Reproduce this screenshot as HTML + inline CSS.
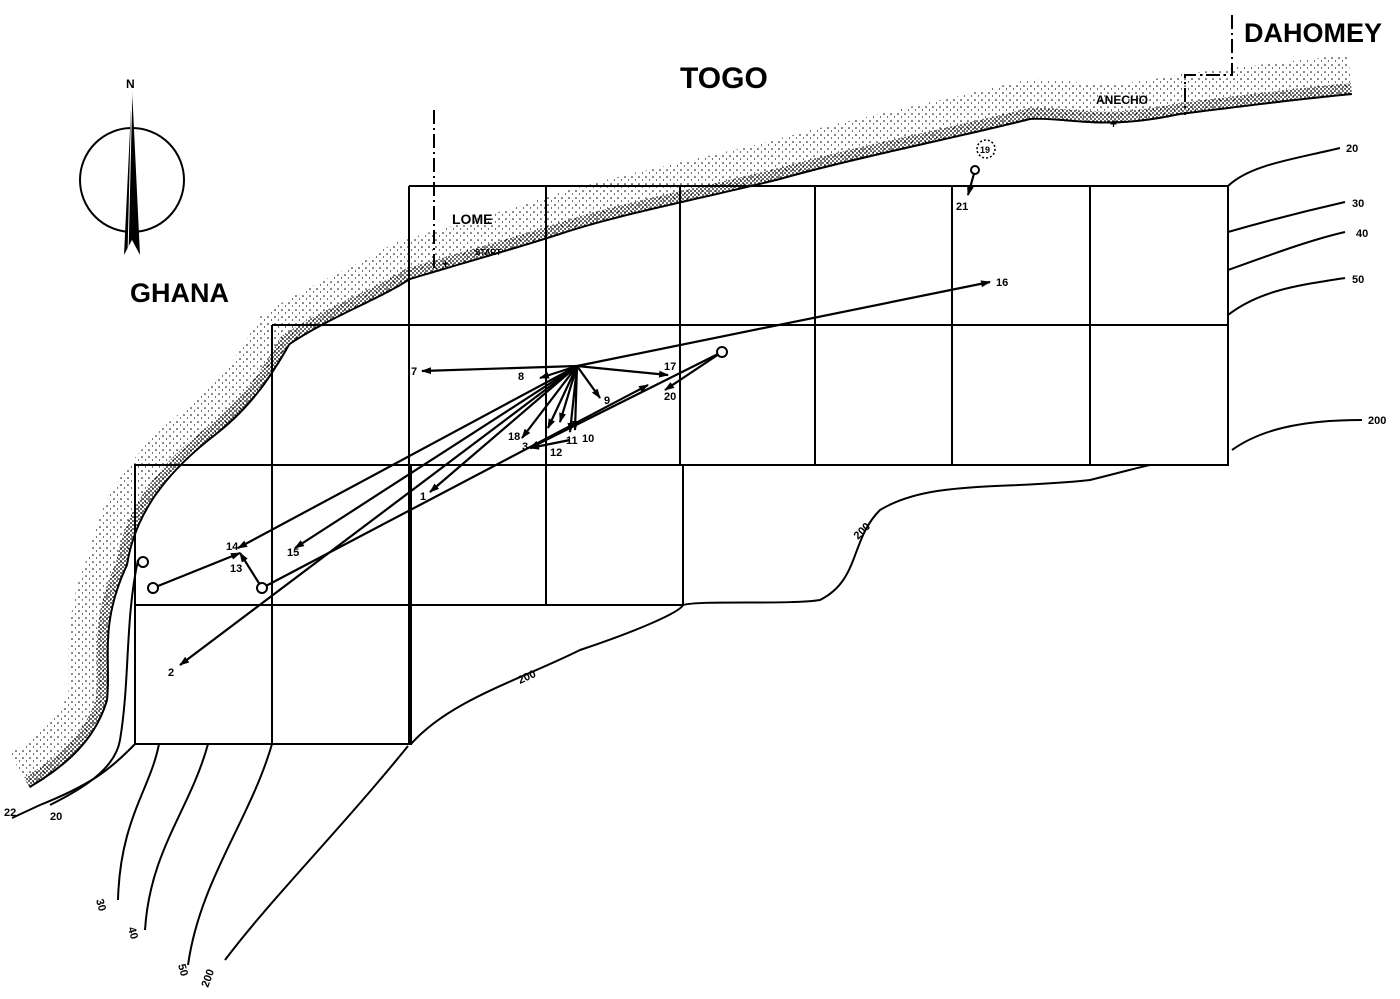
<!DOCTYPE html>
<html><head><style>
html,body{margin:0;padding:0;background:#fff}
svg{display:block}
text{font-family:"Liberation Sans",sans-serif;font-weight:bold;fill:#000}
</style></head><body>
<svg width="1400" height="999" viewBox="0 0 1400 999" xmlns="http://www.w3.org/2000/svg">
<defs>
<pattern id="d1" width="7" height="7" patternUnits="userSpaceOnUse"><circle cx="2" cy="2" r="0.8" fill="#000"/><circle cx="5.5" cy="5" r="0.6" fill="#000"/></pattern>
<pattern id="d2" width="4" height="4" patternUnits="userSpaceOnUse"><circle cx="1" cy="1" r="0.9" fill="#000"/><circle cx="3" cy="3" r="0.9" fill="#000"/></pattern>
<marker id="ar" markerUnits="userSpaceOnUse" markerWidth="10" markerHeight="7" refX="9" refY="3.5" orient="auto"><path d="M0,0 L10,3.5 L0,7 z" fill="#000"/></marker>
<clipPath id="land"><path d="M30,788 C60,770 95,745 108,700 C112,660 100,625 128,565 C135,520 160,480 210,440 C250,410 270,380 290,345 C330,318 380,300 410,280 C470,262 520,248 560,235 C620,215 700,200 780,180 C850,160 950,140 1030,120 C1070,118 1100,132 1180,115 C1260,105 1300,100 1352,95 L1352,0 L0,0 L0,788 Z"/></clipPath>
</defs>
<g clip-path="url(#land)" fill="none">
<path id="coast" d="M30,788 C60,770 95,745 108,700 C112,660 100,625 128,565 C135,520 160,480 210,440 C250,410 270,380 290,345 C330,318 380,300 410,280 C470,262 520,248 560,235 C620,215 700,200 780,180 C850,160 950,140 1030,120 C1070,118 1100,132 1180,115 C1260,105 1300,100 1352,95" stroke="url(#d1)" stroke-width="80"/>
<path d="M30,788 C60,770 95,745 108,700 C112,660 100,625 128,565 C135,520 160,480 210,440 C250,410 270,380 290,345 C330,318 380,300 410,280 C470,262 520,248 560,235 C620,215 700,200 780,180 C850,160 950,140 1030,120 C1070,118 1100,132 1180,115 C1260,105 1300,100 1352,95" stroke="url(#d2)" stroke-width="24"/>
<path d="M30,788 C60,770 95,745 108,700 C112,660 100,625 128,565 C135,520 160,480 210,440 C250,410 270,380 290,345 C330,318 380,300 410,280 C470,262 520,248 560,235 C620,215 700,200 780,180 C850,160 950,140 1030,120 C1070,118 1100,132 1180,115 C1260,105 1300,100 1352,95" stroke="#000" stroke-width="4"/>
</g>
<g fill="none" stroke="#000" stroke-width="2">
<path d="M409,186 H1228 V465 H135 V744 H411 V465 M272,325 H1228 M272,325 V744 M135,605 H683 V465 M409,186 V744 M546,186 V605 M680,186 V465 M815,186 V465 M952,186 V465 M1090,186 V465"/>
<path d="M1228,186 C1250,165 1290,160 1340,148"/>
<path d="M1228,232 C1270,220 1310,210 1345,202"/>
<path d="M1228,270 C1270,255 1310,240 1345,232"/>
<path d="M1228,315 C1260,290 1300,285 1345,278"/>
<path d="M1232,450 C1260,430 1300,420 1362,420"/>
<path d="M411,744 C450,700 520,680 580,650 C640,630 680,612 683,605 C700,600 790,605 820,600 C860,580 850,540 880,510 C930,480 1000,490 1090,480 C1130,470 1140,467 1150,465"/>
<path d="M135,744 C110,770 90,785 40,805 L12,818"/>
<path d="M159,744 C150,790 120,820 118,900"/>
<path d="M208,744 C190,810 150,850 145,930"/>
<path d="M272,744 C250,820 200,880 188,965"/>
<path d="M408,746 C340,830 270,900 225,960"/>
<path d="M138,560 C125,620 130,680 120,740 C115,770 80,790 50,805"/>
<path d="M434,110 V268" stroke-dasharray="14,4,2,4"/>
<path d="M1232,15 V75 H1185 V115" stroke-dasharray="14,4,2,4"/>
<circle cx="132" cy="180" r="52"/>
</g>
<path d="M132,88 L140,255 L132,240 L124,255 Z" fill="#000"/>
<path d="M132,88 L128,255" stroke="#fff" stroke-width="1"/>
<text x="126" y="88" font-size="12">N</text>
<g stroke="#000" stroke-width="2.2" fill="none" marker-end="url(#ar)">
<path d="M577,366 L422,371"/>
<path d="M577,366 L990,282"/>
<path d="M577,366 L668,375"/>
<path d="M577,366 L600,398"/>
<path d="M577,366 L238,548"/>
<path d="M577,366 L295,548"/>
<path d="M577,366 L430,492"/>
<path d="M577,366 L180,665"/>
<path d="M577,366 L522,438"/>
<path d="M577,366 L548,428"/>
<path d="M577,366 L560,422"/>
<path d="M577,366 L570,432"/>
<path d="M577,366 L575,430"/>
<path d="M577,366 L540,378"/>
<path d="M570,440 L530,448"/>
<path d="M722,352 L530,448"/>
<path d="M722,352 L665,390"/>
<path d="M153,588 L240,553"/>
<path d="M262,588 L240,553"/>
<path d="M262,588 L648,385"/>
<path d="M975,170 L968,195"/>
</g>
<g fill="#fff" stroke="#000" stroke-width="2">
<circle cx="722" cy="352" r="5"/><circle cx="153" cy="588" r="5"/><circle cx="262" cy="588" r="5"/><circle cx="143" cy="562" r="5"/><circle cx="975" cy="170" r="4"/>
<circle cx="986" cy="149" r="9" stroke-dasharray="2,2" stroke-width="1.5"/>
</g>
<text x="680" y="88" font-size="30">TOGO</text>
<text x="1244" y="42" font-size="27">DAHOMEY</text>
<text x="130" y="302" font-size="27">GHANA</text>
<text x="452" y="224" font-size="14">LOME</text>
<text x="475" y="255" font-size="8">START</text>
<text x="442" y="268" font-size="12">+</text>
<text x="1096" y="104" font-size="12">ANECHO</text>
<text x="1110" y="128" font-size="12">+</text>
<g font-size="11">
<text x="411" y="375">7</text><text x="996" y="286">16</text><text x="664" y="370">17</text><text x="604" y="404">9</text>
<text x="664" y="400">20</text><text x="518" y="380">8</text><text x="226" y="550">14</text><text x="287" y="556">15</text>
<text x="420" y="500">1</text><text x="168" y="676">2</text><text x="508" y="440">18</text><text x="550" y="456">12</text>
<text x="566" y="444">11</text><text x="582" y="442">10</text><text x="522" y="450">3</text><text x="230" y="572">13</text>
<text x="956" y="210">21</text><text x="980" y="153" font-size="9">19</text>
<text x="1346" y="152">20</text><text x="1352" y="207">30</text><text x="1356" y="237">40</text><text x="1352" y="283">50</text>
<text x="1368" y="424">200</text><text x="4" y="816">22</text><text x="50" y="820">20</text>
<text x="858" y="540" transform="rotate(-45 858 540)">200</text>
<text x="520" y="684" transform="rotate(-25 520 684)">200</text>
<text x="96" y="900" transform="rotate(75 96 900)">30</text>
<text x="128" y="928" transform="rotate(75 128 928)">40</text>
<text x="178" y="965" transform="rotate(75 178 965)">50</text>
<text x="208" y="988" transform="rotate(-70 208 988)">200</text>
</g>
</svg>
</body></html>
